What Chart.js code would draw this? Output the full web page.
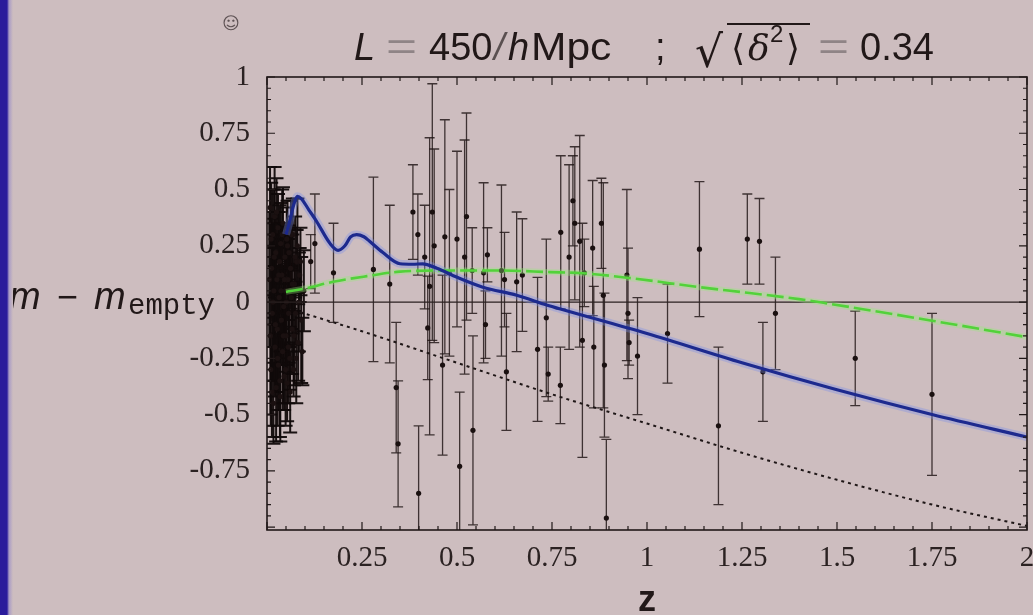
<!DOCTYPE html>
<html>
<head>
<meta charset="utf-8">
<script src="https://cdn.jsdelivr.net/npm/chart.js@4/dist/chart.umd.min.js"></script>
<style>
  html, body { margin: 0; padding: 0; background: #cdbdbf; }
  #wrap { position: relative; width: 1033px; height: 615px; overflow: hidden; background: #cdbdbf; }
  #c { position: absolute; left: 0; top: 0; }
  #edge { position: absolute; left: 0; top: 0; width: 13px; height: 615px;
          background: linear-gradient(to right, #2a1b9b 0px, #2a1b9b 7px, #a99bc6 9px, #cdbdbf 13px); }
</style>
</head>
<body>
<div id="wrap">
  <canvas id="c" width="1033" height="615"></canvas>
  <div id="edge"></div>
</div>
<script>
// Nearby supernovae (z < 0.1): redshift, magnitude residual, 1-sigma error
const nearbyZ = [0.008,0.010,0.012,0.014,0.015,0.017,0.018,0.020,0.021,0.023,0.024,0.026,0.027,0.029,0.030,0.032,0.033,0.035,0.036,0.038,0.039,0.041,0.042,0.044,0.045,0.047,0.048,0.050,0.052,0.053,0.055,0.057,0.058,0.060,0.062,0.064,0.066,0.068,0.070,0.072,0.075,0.078,0.080,0.082,0.086,0.090,
                 0.006,0.009,0.011,0.013,0.016,0.019,0.022,0.025,0.028,0.031,0.034,0.037,0.040,0.043,0.046,0.049,0.051,0.054,0.056,0.059,0.061,0.063,0.067,0.071,0.074,0.077,0.084,0.088,0.093,0.097];
const nearbyDm = [0.42,-0.30,0.15,-0.05,0.30,-0.45,0.05,0.38,-0.20,0.22,-0.38,0.10,-0.12,0.33,-0.28,0.02,0.18,-0.42,0.26,-0.08,0.12,-0.22,0.35,-0.02,-0.33,0.20,0.05,-0.15,0.28,-0.36,0.10,-0.05,0.22,-0.25,0.15,0.02,-0.12,0.30,-0.30,0.08,-0.05,0.18,0.25,-0.18,0.12,-0.08,
                  0.10,-0.15,0.28,-0.40,0.00,0.20,-0.10,0.40,-0.25,0.12,-0.35,0.05,0.30,-0.15,0.10,-0.30,0.00,0.25,-0.20,0.05,-0.40,0.30,0.08,-0.15,0.20,-0.25,0.00,0.18,-0.22,0.05];
const nearbyErr = [0.18,0.25,0.22,0.30,0.20,0.18,0.25,0.22,0.22,0.18,0.24,0.20,0.28,0.15,0.20,0.22,0.25,0.20,0.18,0.20,0.16,0.26,0.16,0.18,0.15,0.14,0.25,0.16,0.14,0.17,0.18,0.22,0.12,0.14,0.18,0.14,0.20,0.16,0.12,0.12,0.14,0.14,0.21,0.17,0.12,0.28,
                   0.30,0.35,0.25,0.20,0.35,0.30,0.30,0.15,0.30,0.28,0.25,0.30,0.20,0.30,0.25,0.25,0.28,0.20,0.25,0.25,0.18,0.15,0.22,0.22,0.18,0.20,0.22,0.15,0.15,0.18];

// Distant supernovae
const distantZ = [0.115,0.126,0.175,0.28,0.323,0.34,0.345,0.384,0.397,0.399,0.415,0.423,0.428,0.435,0.44,0.462,0.468,0.48,0.50,0.507,0.52,0.525,0.54,0.542,0.57,0.575,0.58,0.617,0.625,0.63,0.657,0.672,0.712,0.735,0.74,0.772,0.773,0.795,0.805,0.81,0.823,0.83,0.835,0.857,0.86,0.88,0.885,0.888,0.893,0.947,0.95,0.953,0.975,1.054,1.138,1.188,1.264,1.296,1.305,1.338,1.548,1.75];
const distantDm = [0.18,0.26,0.13,0.145,0.08,-0.38,-0.63,0.40,0.30,-0.85,0.20,-0.115,0.07,0.40,0.25,-0.28,0.29,0.13,0.28,-0.73,0.20,0.38,0.14,-0.57,0.13,-0.10,0.21,0.14,0.10,-0.31,0.09,0.12,-0.21,-0.07,-0.32,-0.37,0.31,0.20,0.45,0.35,0.27,-0.17,0.13,0.24,-0.20,0.35,0.03,-0.28,-0.96,0.12,-0.05,-0.18,-0.24,-0.14,0.235,-0.55,0.28,0.27,-0.31,-0.05,-0.25,-0.41];
const distantErr = [0.12,0.22,0.22,0.41,0.35,0.29,0.28,0.21,0.18,0.30,0.23,0.23,0.66,0.57,0.43,0.40,0.52,0.37,0.39,0.33,0.52,0.46,0.19,0.42,0.40,0.15,0.12,0.38,0.21,0.26,0.31,0.25,0.32,0.35,0.12,0.17,0.34,0.41,0.20,0.34,0.47,0.52,0.15,0.30,0.27,0.20,0.50,0.32,0.35,0.38,0.29,0.10,0.26,0.22,0.30,0.35,0.20,0.19,0.22,0.25,0.21,0.36];

// Inhomogeneous model (blue)
const blueZ  = [0.05,0.06,0.07,0.08,0.09,0.11,0.13,0.166,0.187,0.205,0.22,0.236,0.255,0.27,0.305,0.35,0.384,0.41,0.447,0.5,0.568,0.657,0.736,0.77,1.0,1.25,1.5,1.75,2.0];
const blueDm = [0.30,0.36,0.43,0.47,0.46,0.41,0.36,0.26,0.23,0.25,0.29,0.30,0.29,0.27,0.22,0.17,0.168,0.17,0.15,0.11,0.066,0.03,-0.013,-0.03,-0.14,-0.27,-0.39,-0.50,-0.60];

// Concordance model (green, dashed)
const greenZ  = [0.05,0.10,0.174,0.263,0.35,0.48,0.612,0.744,0.83,0.963,1.138,1.27,1.40,1.47,1.75,2.0];
const greenDm = [0.045,0.06,0.09,0.115,0.135,0.14,0.14,0.133,0.128,0.105,0.066,0.04,0.013,-0.005,-0.083,-0.156];

// Matter-only model (black, dotted)
const dustZ  = [0.087,0.25,0.5,0.75,1.0,1.25,1.5,1.75,2.0];
const dustDm = [-0.045,-0.13,-0.27,-0.41,-0.54,-0.67,-0.79,-0.90,-0.995];

// Axis ticks
const xTickVals = [0.25,0.5,0.75,1,1.25,1.5,1.75,2];
const xTickLabels = ['0.25','0.5','0.75','1','1.25','1.5','1.75','2'];
const yTickVals = [1,0.75,0.5,0.25,0,-0.25,-0.5,-0.75];
const yTickLabels = ['1','0.75','0.5','0.25','0','-0.25','-0.5','-0.75'];

const toPts = (xs, ys) => xs.map((x, i) => ({ x, y: ys[i] }));
const snZ = nearbyZ.concat(distantZ);
const snDm = nearbyDm.concat(distantDm);
const snErr = nearbyErr.concat(distantErr);

const INK = '#211818';

// vertical error bars with caps, drawn beneath the curves
const errorBars = {
  id: 'errorBars',
  beforeDatasetsDraw(chart) {
    const { ctx, chartArea: a, scales: { x, y } } = chart;
    ctx.save();
    ctx.beginPath(); ctx.rect(a.left, a.top, a.right - a.left, a.bottom - a.top); ctx.clip();
    chart.data.datasets.forEach(ds => {
      if (!ds.errors) return;
      ds.data.forEach((p, i) => {
        const e = ds.errors[i];
        const px = x.getPixelForValue(p.x);
        const yt = y.getPixelForValue(p.y + e);
        const yb = y.getPixelForValue(p.y - e);
        const near = p.x < 0.1;
        ctx.strokeStyle = near ? 'rgba(16,10,10,0.95)' : 'rgba(30,20,20,0.82)';
        ctx.lineWidth = near ? 2 : 1.3;
        const cw = near ? 7 : 5;
        ctx.beginPath();
        ctx.moveTo(px, yt); ctx.lineTo(px, yb);
        ctx.moveTo(px - cw, yt); ctx.lineTo(px + cw, yt);
        ctx.moveTo(px - cw, yb); ctx.lineTo(px + cw, yb);
        ctx.stroke();
      });
    });
    ctx.restore();
  }
};

// frame with inward major/minor ticks on all four sides
const frame = {
  id: 'frame',
  afterDatasetsDraw(chart) {
    const { ctx, chartArea: a, scales: { x, y } } = chart;
    ctx.save();
    ctx.strokeStyle = INK;
    ctx.lineWidth = 1.6;
    ctx.strokeRect(a.left, a.top, a.right - a.left, a.bottom - a.top);
    ctx.lineWidth = 1.2;
    ctx.beginPath();
    for (let k = 0; k <= 40; k++) {
      const v = k * 0.05;
      const px = x.getPixelForValue(v);
      const L = (k % 5 === 0) ? 8 : 4;
      ctx.moveTo(px, a.bottom); ctx.lineTo(px, a.bottom - L);
      ctx.moveTo(px, a.top); ctx.lineTo(px, a.top + L);
    }
    for (let k = -20; k <= 20; k++) {
      const v = k * 0.05;
      if (v < y.min - 1e-9) continue;
      const py = y.getPixelForValue(v);
      const L = (k % 5 === 0) ? 8 : 4;
      ctx.moveTo(a.left, py); ctx.lineTo(a.left + L, py);
      ctx.moveTo(a.right, py); ctx.lineTo(a.right - L, py);
    }
    ctx.stroke();
    ctx.restore();
  }
};

// title, axis titles and corner mark
const annotations = {
  id: 'annotations',
  afterDraw(chart) {
    const { ctx, scales: { x, y } } = chart;
    ctx.save();
    ctx.textBaseline = 'alphabetic';
    ctx.fillStyle = INK;
    const sans = '"Liberation Sans", Arial, sans-serif';
    const base = 60;
    const put = (txt, px, font, color) => { ctx.font = font; ctx.fillStyle = color || INK; ctx.fillText(txt, px, base); };
    const putWide = (txt, px, font, color, sx) => { ctx.save(); ctx.translate(px, 0); ctx.scale(sx, 1); put(txt, 0, font, color); ctx.restore(); };
    put('L', 354, 'italic 38px ' + sans);
    putWide('=', 386, '38px ' + sans, '#8f8486', 1.4);
    put('450', 429, '38px ' + sans);
    put('/', 494, 'italic 300 38px ' + sans, '#5a5050');
    put('h', 508, 'italic 38px ' + sans);
    putWide('Mpc', 531, '38px ' + sans, INK, 1.12);
    put(';', 655, '38px ' + sans);
    ctx.font = '44px "DejaVu Sans", sans-serif';
    ctx.fillStyle = INK;
    ctx.fillText('\u221A', 695, 67);
    put('\u27E8', 731, '36px "DejaVu Sans", sans-serif');
    put('\u03B4', 748, 'italic 36px "DejaVu Serif", serif');
    ctx.font = '24px ' + sans; ctx.fillText('2', 770, 42);
    put('\u27E9', 786, '36px "DejaVu Sans", sans-serif');
    ctx.strokeStyle = INK; ctx.lineWidth = 2;
    ctx.beginPath(); ctx.moveTo(727, 24); ctx.lineTo(810, 24); ctx.stroke();
    putWide('=', 818, '38px ' + sans, '#8f8486', 1.4);
    put('0.34', 860, '38px ' + sans);

    // y-axis title
    const y0 = y.getPixelForValue(0);
    ctx.fillStyle = INK;
    ctx.font = 'italic 38px ' + sans; ctx.fillText('m', 9, y0 + 7);
    ctx.font = '36px ' + sans; ctx.fillText('\u2212', 57, y0 + 7);
    ctx.font = 'italic 38px ' + sans; ctx.fillText('m', 94, y0 + 7);
    ctx.font = '29px "Liberation Mono", "DejaVu Sans Mono", monospace'; ctx.fillText('empty', 128, y0 + 12);

    // x-axis title
    ctx.font = 'bold 36px ' + sans;
    ctx.textAlign = 'center';
    ctx.fillText('z', x.getPixelForValue(1), 611);

    // small corner mark
    ctx.font = '17px "DejaVu Sans", sans-serif';
    ctx.fillStyle = '#5e5254';
    ctx.fillText('\u263A', 231, 29);
    ctx.restore();
  }
};

new Chart(document.getElementById('c'), {
  type: 'scatter',
  data: {
    datasets: [
      { label: 'blue halo', data: toPts(blueZ, blueDm), showLine: true, borderColor: 'rgba(120,140,235,0.35)', borderWidth: 8, pointRadius: 0, cubicInterpolationMode: 'monotone', order: 3 },
      { label: 'inhomogeneous', data: toPts(blueZ, blueDm), showLine: true, borderColor: '#1d2a8e', borderWidth: 3.2, pointRadius: 0, cubicInterpolationMode: 'monotone', order: 0 },
      { label: 'green halo', data: toPts(greenZ, greenDm), showLine: true, borderColor: 'rgba(150,235,120,0.35)', borderWidth: 6, pointRadius: 0, cubicInterpolationMode: 'monotone', order: 4 },
      { label: 'concordance', data: toPts(greenZ, greenDm), showLine: true, borderColor: '#52d23a', borderWidth: 2.6, borderDash: [17, 5], pointRadius: 0, cubicInterpolationMode: 'monotone', order: 1 },
      { label: 'matter only', data: toPts(dustZ, dustDm), showLine: true, borderColor: '#1e1616', borderWidth: 2, borderDash: [3, 4], pointRadius: 0, cubicInterpolationMode: 'monotone', order: 2 },
      { label: 'zero', data: [{ x: 0, y: 0 }, { x: 2, y: 0 }], showLine: true, borderColor: '#2a2020', borderWidth: 1.2, pointRadius: 0, order: 5 },
      { label: 'SNe Ia', data: toPts(snZ, snDm), errors: snErr, pointRadius: 2.6, pointBackgroundColor: '#1a1010', pointBorderWidth: 0, order: 9 }
    ]
  },
  options: {
    responsive: false,
    animation: false,
    devicePixelRatio: 1,
    layout: { autoPadding: false, padding: { top: 77, right: 6, left: 0, bottom: 0 } },
    plugins: { legend: { display: false }, tooltip: { enabled: false }, title: { display: false } },
    scales: {
      x: {
        type: 'linear', min: 0, max: 2,
        grid: { display: false, drawTicks: false }, border: { display: false },
        afterBuildTicks: s => { s.ticks = xTickVals.map(v => ({ value: v })); },
        afterFit: s => { s.height = 85; s.paddingLeft = 0; s.paddingRight = 0; },
        ticks: { callback: (v, i) => xTickLabels[i], font: { family: '"Liberation Serif", serif', size: 29 }, color: '#2b2222', padding: 11, maxRotation: 0, autoSkip: false }
      },
      y: {
        type: 'linear', min: -1.013, max: 1,
        grid: { display: false, drawTicks: false }, border: { display: false },
        afterBuildTicks: s => { s.ticks = yTickVals.map(v => ({ value: v })); },
        afterFit: s => { s.width = 267; s.paddingTop = 0; s.paddingBottom = 0; },
        ticks: { callback: (v, i) => yTickLabels[i], font: { family: '"Liberation Serif", serif', size: 29 }, color: '#2b2222', padding: 17, autoSkip: false }
      }
    }
  },
  plugins: [errorBars, frame, annotations]
});
</script>
</body>
</html>
